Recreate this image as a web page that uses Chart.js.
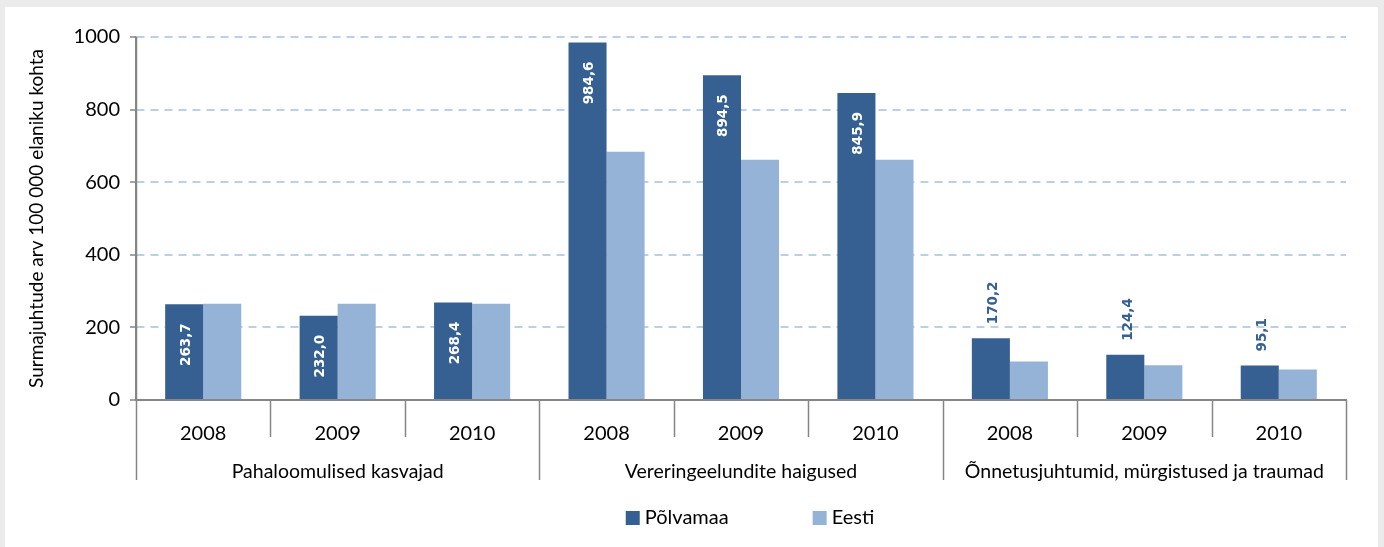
<!DOCTYPE html>
<html>
<head>
<meta charset="utf-8">
<script src="https://cdn.jsdelivr.net/npm/chart.js@4.4.1/dist/chart.umd.min.js"></script>
<style>
  body { margin: 0; background: #ebebeb; }
  #panel { position: absolute; left: 5px; top: 7px; width: 1373px; height: 540px; background: #fff; }
  #chart { position: absolute; left: 0; top: 0; }
</style>
</head>
<body>
<div id="panel"></div>
<canvas id="chart" width="1384" height="547"></canvas>
<script>
// chart data
const years = ["2008", "2009", "2010", "2008", "2009", "2010", "2008", "2009", "2010"];
const groups = [
  "Pahaloomulised kasvajad",
  "Vereringeelundite haigused",
  "Õnnetusjuhtumid, mürgistused ja traumad",
];
const polvamaa = [263.7, 232.0, 268.4, 984.6, 894.5, 845.9, 170.2, 124.4, 95.1];
const eesti = [265, 265, 265, 684, 662, 662, 106, 96, 84];
const yTicks = [0, 200, 400, 600, 800, 1000];

const dark = "#366092";
const light = "#95b3d7";
const axisGray = "#868686";
const txtFont = "Lato";

// draws the two-level category axis, data labels and legend
const extras = {
  id: "extras",
  afterDraw(chart) {
    const ctx = chart.ctx;
    const x = chart.scales.x;
    const area = chart.chartArea;
    const base = area.bottom;
    const step = (x.getPixelForValue(1) - x.getPixelForValue(0));
    ctx.save();

    // separators below the axis
    ctx.strokeStyle = axisGray;
    ctx.lineWidth = 1.5;
    for (let i = 0; i <= years.length; i++) {
      const px = Math.round(x.getPixelForValue(0) - step / 2 + i * step) + 0.5;
      const long = i % 3 === 0;
      ctx.beginPath();
      ctx.moveTo(px, long && i === 0 ? area.top : base);
      ctx.lineTo(px, base + (long ? 80 : 37));
      ctx.stroke();
    }

    // group labels
    ctx.fillStyle = "#000";
    ctx.font = "19.5px " + txtFont;
    ctx.textAlign = "center";
    ctx.textBaseline = "middle";
    groups.forEach((g, gi) => {
      const cx = x.getPixelForValue(gi * 3 + 1);
      ctx.fillText(g, cx, base + 72);
    });

    // data labels for Põlvamaa
    const meta = chart.getDatasetMeta(0);
    ctx.font = "bold 13.5px 'DejaVu Sans'";
    ctx.textBaseline = "middle";
    meta.data.forEach((bar, i) => {
      const txt = polvamaa[i].toFixed(1).replace(".", ",");
      const inside = bar.base - bar.y > 80;
      ctx.save();
      if (inside) {
        ctx.translate(bar.x + 2, bar.y + 19);
        ctx.rotate(-Math.PI / 2);
        ctx.textAlign = "right";
        ctx.fillStyle = "#fff";
      } else {
        ctx.translate(bar.x + 3, bar.y - 14);
        ctx.rotate(-Math.PI / 2);
        ctx.textAlign = "left";
        ctx.fillStyle = dark;
      }
      ctx.fillText(txt, 0, 0);
      ctx.restore();
    });

    // legend
    ctx.font = "20px " + txtFont;
    ctx.textAlign = "left";
    ctx.textBaseline = "middle";
    const items = chart.data.datasets.map(d => ({ label: d.label, color: d.backgroundColor }));
    const box = 14, gapIn = 5, gapOut = 84;
    const widths = items.map(it => box + gapIn + ctx.measureText(it.label).width);
    const total = widths.reduce((a, b) => a + b, 0) + gapOut * (items.length - 1);
    let lx = (area.left + area.right) / 2 - total / 2 + 9;
    const ly = 518;
    items.forEach((it, i) => {
      ctx.fillStyle = it.color;
      ctx.fillRect(lx, ly - box / 2, box, box);
      ctx.fillStyle = "#000";
      ctx.fillText(it.label, lx + box + gapIn, ly);
      lx += widths[i] + gapOut;
    });
    ctx.restore();
  },
};

new Chart(document.getElementById("chart"), {
  type: "bar",
  data: {
    labels: years,
    datasets: [
      { label: "Põlvamaa", data: polvamaa, backgroundColor: dark },
      { label: "Eesti", data: eesti, backgroundColor: light },
    ],
  },
  options: {
    responsive: false,
    animation: false,
    layout: { padding: { left: 0, top: 37, right: 38, bottom: 0 } },
    datasets: { bar: { categoryPercentage: 0.566, barPercentage: 1 } },
    plugins: { legend: { display: false }, tooltip: { enabled: false } },
    scales: {
      x: {
        afterFit: (s) => { s.height = 147; },
        grid: { display: false },
        border: { display: true, color: axisGray, width: 2 },
        ticks: { color: "#000", font: { family: txtFont, size: 20 }, padding: 14, maxRotation: 0 },
      },
      y: {
        min: 0,
        max: 1000,
        afterFit: (s) => { s.width = 136; },
        afterBuildTicks: (s) => { s.ticks = yTicks.map(v => ({ value: v })); },
        border: { display: true, color: axisGray, width: 1.5, dash: [8, 6] },
        grid: {
          color: "#bccfe6",
          lineWidth: 2,
          tickLength: 6,
          tickColor: axisGray,
          tickBorderDash: [],
          tickWidth: 1.5,
        },
        ticks: {
          color: "#000",
          font: { family: txtFont, size: 20 },
          padding: 10,
          callback: (v) => String(v),
        },
        title: {
          display: true,
          text: "Surmajuhtude arv 100 000 elaniku kohta",
          color: "#000",
          font: { family: txtFont, size: 19 },
          padding: { top: 25, bottom: 0 },
        },
      },
    },
  },
  plugins: [extras],
});
</script>
</body>
</html>
